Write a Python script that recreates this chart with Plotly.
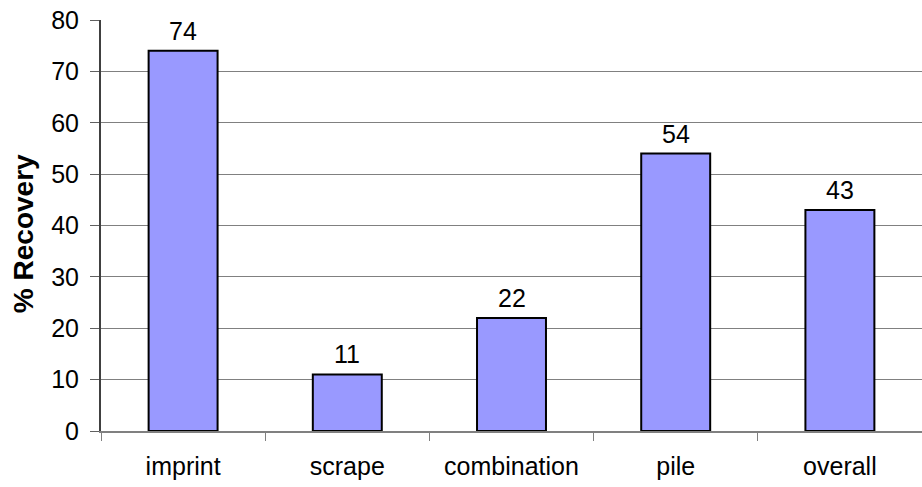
import plotly.graph_objects as go

categories = ["imprint", "scrape", "combination", "pile", "overall"]
recovery = [74, 11, 22, 54, 43]
y_ticks = [0, 10, 20, 30, 40, 50, 60, 70, 80]

font_family = "Liberation Sans, Arial, sans-serif"
font_size = 25

fig = go.Figure(
    go.Bar(
        x=categories,
        y=recovery,
        marker=dict(color="#9999FF", line=dict(color="#000000", width=2)),
        width=0.42,
    )
)

# value labels sitting just above each bar
for cat, val in zip(categories, recovery):
    fig.add_annotation(
        x=cat,
        y=val,
        text=str(val),
        showarrow=False,
        yanchor="bottom",
        yshift=4,
        font=dict(family=font_family, size=font_size, color="#000000"),
    )

# rotated y-axis title
fig.add_annotation(
    text="<b>% Recovery</b>",
    xref="paper",
    yref="paper",
    x=-0.095,
    y=0.479,
    xanchor="center",
    yanchor="middle",
    textangle=-90,
    showarrow=False,
    font=dict(family=font_family, size=28, color="#000000"),
)

fig.update_layout(
    width=922,
    height=487,
    margin=dict(l=101, r=0, t=20, b=56),
    paper_bgcolor="white",
    plot_bgcolor="white",
    showlegend=False,
    font=dict(family=font_family, size=font_size, color="#000000"),
)

fig.update_xaxes(
    type="category",
    tickson="boundaries",
    ticks="outside",
    ticklen=8,
    tickcolor="#808080",
    showline=True,
    linecolor="#808080",
    linewidth=2,
    showgrid=False,
    tickfont=dict(family=font_family, size=font_size),
    ticklabelstandoff=12,
)

fig.update_yaxes(
    range=[0, 80],
    tickvals=y_ticks,
    ticks="outside",
    ticklen=9,
    tickcolor="#606060",
    showline=True,
    linecolor="#404040",
    linewidth=2,
    showgrid=True,
    gridcolor="#808080",
    gridwidth=1,
    zeroline=False,
    tickfont=dict(family=font_family, size=font_size),
    ticklabelstandoff=6,
)

fig.write_html("out.html")
